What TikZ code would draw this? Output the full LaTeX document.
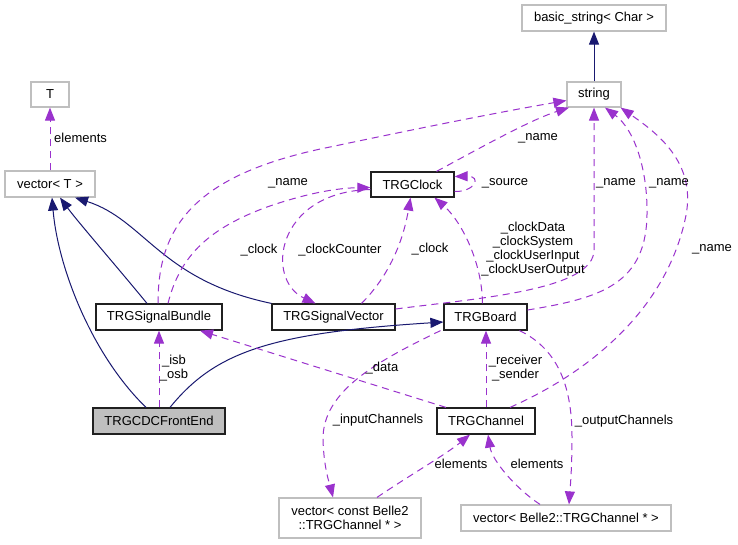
\documentclass[tikz,border=0pt]{standalone}
\usepackage{fontspec}
\setmainfont{Liberation Sans}
\usetikzlibrary{arrows.meta}
\definecolor{navy}{HTML}{191970}
\definecolor{purp}{HTML}{9A32CD}
\definecolor{boxgray}{HTML}{BFBFBF}
\definecolor{fegray}{HTML}{BFBFBF}
\definecolor{boxblack}{HTML}{202020}
\tikzset{
  basebox/.style={rectangle, inner sep=0pt, line width=1.2pt, align=center,
    font=\fontsize{13}{14}\selectfont},
  cls/.style={basebox, draw=boxblack},
  ext/.style={basebox, draw=boxgray},
  inh/.style={draw=navy, line width=1pt, -{Triangle[length=13pt,width=10pt]}},
  use/.style={draw=purp, line width=1pt, dash pattern=on 7pt off 5pt,
    -{Triangle[length=13pt,width=10pt]}},
  lbl/.style={inner sep=0pt, align=center, font=\fontsize{13}{14}\selectfont}
}
\begin{document}
\begin{tikzpicture}[x=1pt,y=-1pt]
\fill[white] (0,0) rectangle (738,544);
\useasboundingbox (0,0) rectangle (738,544);

% nodes
\node[ext, minimum width=144pt, minimum height=26pt] (bstr) at (594,18) {basic\_string< Char >};
\node[ext, minimum width=54pt, minimum height=25pt] (string) at (594,94.5) {string};
\node[ext, minimum width=38pt, minimum height=25pt] (T) at (50,94.5) {T};
\node[ext, minimum width=90pt, minimum height=26pt] (vecT) at (50,184) {vector< T >};
\node[cls, minimum width=83pt, minimum height=25pt] (clock) at (412.5,184.5) {TRGClock};
\node[cls, minimum width=126pt, minimum height=26pt] (bundle) at (159,317) {TRGSignalBundle};
\node[cls, minimum width=123pt, minimum height=26pt] (svec) at (333.5,317) {TRGSignalVector};
\node[cls, minimum width=83pt, minimum height=26pt] (board) at (485.5,317) {TRGBoard};
\node[cls, fill=fegray, minimum width=132pt, minimum height=26pt] (fe) at (159,421) {TRGCDCFrontEnd};
\node[cls, minimum width=98pt, minimum height=26pt] (chan) at (486,421) {TRGChannel};
\node[ext, minimum width=142pt, minimum height=40pt] (vcc) at (350,518) {vector< const Belle2\\::TRGChannel * >};
\node[ext, minimum width=210pt, minimum height=26pt] (vc) at (566,518) {vector< Belle2::TRGChannel * >};

% inheritance
\draw[inh] (string.north) -- (bstr.south);
\draw[inh] ([xshift=-13pt]fe.north) .. controls (92,355) and (58,268) .. ([xshift=2pt]vecT.south);
\draw[inh] ([xshift=-12pt]bundle.north) .. controls (118,268) and (78,222) .. ([xshift=10pt]vecT.south);
\draw[inh] (svec.north west) .. controls (160,280) and (145,220) .. ([xshift=25pt]vecT.south);
\draw[inh] ([xshift=11pt]fe.north) .. controls (215,352) and (270,333) .. ([yshift=-5pt]board.west);

% usage
\draw[use] (vecT.north) -- (T.south);
\draw[use] (fe.north) -- (bundle.south);
\draw[use] ([xshift=-1pt]bundle.north) .. controls (158,230) and (190,175) .. (330,147)
  .. controls (420,128) and (500,112) .. ([yshift=-6pt]string.west);
\draw[use] ([xshift=9pt]bundle.north) .. controls (180,255) and (210,228) .. (267,207)
  .. controls (310,192) and (340,188) .. ([yshift=-3pt]clock.west);
\draw[use] ([yshift=-5pt]clock.west) .. controls (275,192) and (265,280) .. ([xshift=-18pt]svec.north);
\draw[use] ([xshift=28pt]svec.north) .. controls (395,270) and (405,230) .. ([xshift=-2pt]clock.south);
\draw[use] ([xshift=24pt]clock.north) .. controls (480,148) and (530,120) .. ([xshift=-25pt]string.south);
\draw[use] ([yshift=-7pt]clock.east) .. controls (475,192) and (482,176) .. ([yshift=8pt]clock.east);
\draw[use] ([xshift=-3pt]board.north) .. controls (482,260) and (460,220) .. ([xshift=22pt]clock.south);
\draw[use] ([yshift=8pt]svec.east) .. controls (480,298) and (594,290) .. (594,250) -- (string.south);
\draw[use] ([yshift=7pt]board.east) .. controls (600,298) and (648,285) .. (647,210)
  .. controls (647,170) and (635,130) .. ([xshift=11pt]string.south);
\draw[use] ([xshift=24pt]chan.north) .. controls (590,372) and (665,310) .. (685,220)
  .. controls (698,165) and (660,135) .. ([xshift=-1pt]string.south east);
\draw[use] (chan.north) -- (chan.north |- board.south);
\draw[use] ([xshift=-40pt]chan.north) -- ([xshift=41pt]bundle.south);
\draw[use] ([xshift=-45pt]board.south) .. controls (380,360) and (322,390) .. (323,440)
  .. controls (324,470) and (330,485) .. ([xshift=-17pt]vcc.north);
\draw[use] ([xshift=34pt]board.south) .. controls (560,350) and (572,390) .. (572,437)
  .. controls (572,470) and (570,490) .. ([xshift=3pt]vc.north);
\draw[use] ([xshift=27pt]vcc.north) .. controls (410,475) and (445,455) .. ([xshift=-16pt]chan.south);
\draw[use] ([xshift=-26pt]vc.north) .. controls (515,488) and (492,460) .. ([xshift=2pt]chan.south);

% labels
\node[lbl, anchor=west] (lel) at (54,138) {elements};
\node[lbl] (lisb) at (174,368.5) {\_isb\\\_osb};
\node[lbl] (lname1) at (288,183) {\_name};
\node[lbl] (lclock1) at (259,250) {\_clock};
\node[lbl] (lcc) at (340,250) {\_clockCounter};
\node[lbl] (lclock2) at (430,249) {\_clock};
\node[lbl] (lname2) at (538,138) {\_name};
\node[lbl] (lsrc) at (505,183) {\_source};
\node[lbl] (lcd) at (533,249.5) {\_clockData\\\_clockSystem\\\_clockUserInput\\\_clockUserOutput};
\node[lbl] (lname3) at (616,183) {\_name};
\node[lbl] (lname4) at (669,183) {\_name};
\node[lbl] (lname5) at (712,249) {\_name};
\node[lbl] (lrs) at (515.5,368.5) {\_receiver\\\_sender};
\node[lbl] (ldata) at (382,368) {\_data};
\node[lbl] (lin) at (378,420) {\_inputChannels};
\node[lbl] (lout) at (624,421) {\_outputChannels};
\node[lbl] (lel2) at (461,464) {elements};
\node[lbl] (lel3) at (537,464) {elements};
\end{tikzpicture}
\end{document}
